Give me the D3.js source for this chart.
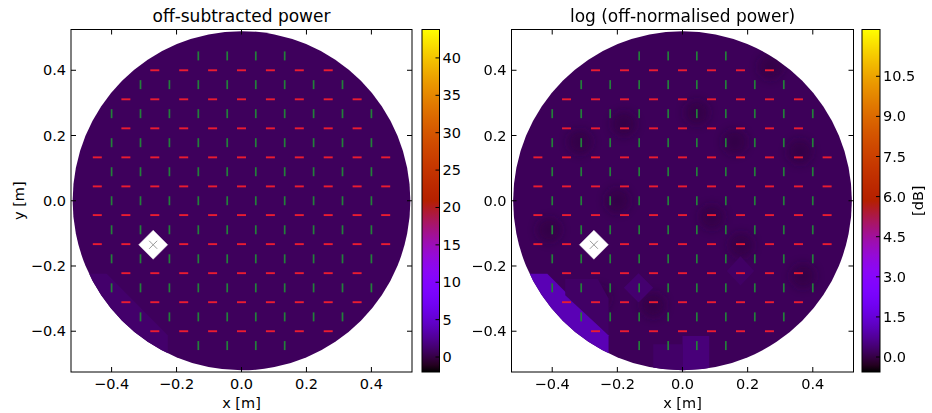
<!DOCTYPE html>
<html><head><meta charset="utf-8">
<script src="https://cdn.jsdelivr.net/npm/d3@7"></script>
<style>body{margin:0;background:#fff} svg{display:block} text{font-family:"DejaVu Sans",sans-serif;fill:#000}</style>
</head><body><svg id="c" width="932" height="413"></svg>
<script>
// ---- data ----
const titles = ["off-subtracted power", "log (off-normalised power)"];
const axisTicks = [-0.4, -0.2, 0.0, 0.2, 0.4];
const axisExtent = [-0.525, 0.525];
const dishRadius = 0.52;
const feedRadius = 0.485;
const redDashX = [-0.444, -0.356, -0.267, -0.178, -0.089, 0, 0.089, 0.178, 0.267, 0.356, 0.444];
const redDashY = [0.4, 0.311, 0.222, 0.133, 0.044, -0.044, -0.133, -0.222, -0.311, -0.4];
const greenDashX = [-0.4, -0.311, -0.222, -0.133, -0.044, 0.044, 0.133, 0.222, 0.311, 0.4];
const greenDashY = [0.444, 0.356, 0.267, 0.178, 0.089, 0, -0.089, -0.178, -0.267, -0.356, -0.444];
const sourcePos = [-0.272, -0.135];
const leftRange = [-2.0, 43.8];
const leftTicks = [0, 5, 10, 15, 20, 25, 30, 35, 40];
const rightRange = [-0.56, 12.25];
const rightTicks = [0, 1.5, 3.0, 4.5, 6.0, 7.5, 9.0, 10.5];
const leftBase = 0.7;
const rightBase = 0.17;
const stripPoly = [[-0.6, -0.224], [-0.415, -0.224], [-0.227, -0.412], [-0.227, -0.6], [-0.6, -0.6]];
const leftPatches = [{poly: stripPoly, v: 1.15}];
const rightPatches = [
  {poly: stripPoly, v: 1.05},
  {poly: [[-0.36, -0.24], [-0.26, -0.24], [-0.227, -0.30], [-0.227, -0.412], [-0.36, -0.29]], v: 0.27},
  {poly: [[0.0, -0.415], [0.082, -0.415], [0.082, -0.6], [0.0, -0.6]], v: 0.45},
  {poly: [[-0.09, -0.44], [0.0, -0.44], [0.0, -0.6], [-0.09, -0.6]], v: 0.3},
  {poly: [[-0.135, -0.222], [-0.09, -0.267], [-0.135, -0.312], [-0.18, -0.267]], v: 0.36},
  {poly: [[0.178, -0.17], [0.22, -0.215], [0.178, -0.26], [0.136, -0.215]], v: 0.27}
];
const rightDarkSpots = [[-0.315, 0.18], [-0.18, 0.235], [0.27, 0.41], [0.16, 0.18], [0.044, 0.27], [0.36, 0.15],
  [-0.41, -0.09], [0.18, -0.136], [-0.09, -0.32], [-0.26, -0.3], [0.37, -0.23], [-0.2, 0.0], [0.09, -0.05]];
const darkSpotValue = -0.2;

// ---- layout ----
const Y0 = 29.5, Y1 = 372;
const panels = [
  {x0: 71, x1: 412, cbx: 422, cbw: 17.5, range: leftRange, ticks: leftTicks, fmt: d3.format("d"), base: leftBase, patches: leftPatches, spots: [], cblabel: null},
  {x0: 511.5, x1: 853.5, cbx: 862, cbw: 18, range: rightRange, ticks: rightTicks, fmt: d3.format(".1f"), base: rightBase, patches: rightPatches, spots: rightDarkSpots, cblabel: "[dB]"}
];

function gnuplot(t) {
  t = Math.max(0, Math.min(1, t));
  const r = Math.sqrt(t), g = t * t * t, b = Math.max(0, Math.sin(2 * Math.PI * t));
  return d3.rgb(r * 255, g * 255, b * 255).toString();
}

const svg = d3.select("#c");
const defs = svg.append("defs");
defs.append("filter").attr("id", "blur").attr("x", "-50%").attr("y", "-50%").attr("width", "200%").attr("height", "200%")
  .append("feGaussianBlur").attr("stdDeviation", 4);

panels.forEach((p, i) => {
  const x = d3.scaleLinear().domain(axisExtent).range([p.x0, p.x1]);
  const y = d3.scaleLinear().domain(axisExtent).range([Y1, Y0]);
  const color = d3.scaleSequential(gnuplot).domain(p.range);
  const g = svg.append("g");

  const clipId = "clip" + i;
  const rx = x(dishRadius) - x(0), ry = y(0) - y(dishRadius);
  defs.append("clipPath").attr("id", clipId).append("ellipse")
    .attr("cx", x(0)).attr("cy", y(0)).attr("rx", rx).attr("ry", ry);

  const field = g.append("g").attr("clip-path", `url(#${clipId})`);
  field.append("rect").attr("x", p.x0).attr("y", Y0).attr("width", p.x1 - p.x0).attr("height", Y1 - Y0)
    .attr("fill", color(p.base));
  field.append("g").attr("filter", "url(#blur)").selectAll("ellipse").data(p.spots).join("ellipse")
    .attr("cx", d => x(d[0])).attr("cy", d => y(d[1]))
    .attr("rx", x(0.038) - x(0)).attr("ry", y(0) - y(0.038))
    .attr("fill", color(darkSpotValue)).attr("opacity", 0.4);
  const line = d3.line().x(d => x(d[0])).y(d => y(d[1]));
  field.selectAll("path.patch").data(p.patches).join("path").attr("class", "patch")
    .attr("d", d => line(d.poly) + "Z").attr("fill", d => color(d.v));

  // feeds
  const reds = [], greens = [];
  redDashY.forEach(yy => redDashX.forEach(xx => { if (Math.hypot(xx, yy) < feedRadius) reds.push([xx, yy]); }));
  greenDashY.forEach(yy => greenDashX.forEach(xx => { if (Math.hypot(xx, yy) < feedRadius) greens.push([xx, yy]); }));
  g.selectAll("line.g").data(greens).join("line").attr("class", "g")
    .attr("x1", d => x(d[0])).attr("x2", d => x(d[0]))
    .attr("y1", d => y(d[1]) - 4.5).attr("y2", d => y(d[1]) + 4.5)
    .attr("stroke", "#23803a").attr("stroke-width", 1.7);
  g.selectAll("line.r").data(reds).join("line").attr("class", "r")
    .attr("x1", d => x(d[0]) - 4.5).attr("x2", d => x(d[0]) + 4.5)
    .attr("y1", d => y(d[1])).attr("y2", d => y(d[1]))
    .attr("stroke", "#ea1c30").attr("stroke-width", 1.9);

  // source marker
  const sx = x(sourcePos[0]), sy = y(sourcePos[1]), s = 14.5;
  g.append("path").attr("d", `M${sx},${sy - s}L${sx + s},${sy}L${sx},${sy + s}L${sx - s},${sy}Z`)
    .attr("fill", "#fff").attr("stroke", "#f4f4f4").attr("stroke-width", 0.5);
  g.append("path").attr("d", `M${sx - 4},${sy - 4}L${sx + 4},${sy + 4}M${sx - 4},${sy + 4}L${sx + 4},${sy - 4}`)
    .attr("stroke", "#9a9a9a").attr("stroke-width", 1);

  // frame and ticks
  g.append("rect").attr("x", p.x0).attr("y", Y0).attr("width", p.x1 - p.x0).attr("height", Y1 - Y0)
    .attr("fill", "none").attr("stroke", "#000").attr("stroke-width", 1);
  const tl = 5;
  const tk = g.append("g").attr("stroke", "#000").attr("stroke-width", 1);
  axisTicks.forEach(t => {
    tk.append("line").attr("x1", x(t)).attr("x2", x(t)).attr("y1", Y1).attr("y2", Y1 - tl);
    tk.append("line").attr("x1", x(t)).attr("x2", x(t)).attr("y1", Y0).attr("y2", Y0 + tl);
    tk.append("line").attr("y1", y(t)).attr("y2", y(t)).attr("x1", p.x0).attr("x2", p.x0 + tl);
    tk.append("line").attr("y1", y(t)).attr("y2", y(t)).attr("x1", p.x1).attr("x2", p.x1 - tl);
  });
  const fmt = d => d3.format(".1f")(d).replace("-", "\u2212");
  g.selectAll("text.xt").data(axisTicks).join("text").attr("class", "xt")
    .attr("x", d => x(d)).attr("y", Y1 + 17).attr("text-anchor", "middle").attr("font-size", 14.5).text(fmt);
  g.selectAll("text.yt").data(axisTicks).join("text").attr("class", "yt")
    .attr("x", p.x0 - 5).attr("y", d => y(d) + 5).attr("text-anchor", "end").attr("font-size", 14.5).text(fmt);
  g.append("text").attr("x", (p.x0 + p.x1) / 2).attr("y", 22).attr("text-anchor", "middle").attr("font-size", 17).text(titles[i]);
  g.append("text").attr("x", (p.x0 + p.x1) / 2).attr("y", 408).attr("text-anchor", "middle").attr("font-size", 14.5).text("x [m]");
  if (i === 0) {
    g.append("text").attr("transform", `translate(24,${(Y0 + Y1) / 2}) rotate(-90)`).attr("text-anchor", "middle").attr("font-size", 14.5).text("y [m]");
  }

  // colorbar
  const cb = d3.scaleLinear().domain(p.range).range([Y1, Y0]);
  const gid = "grad" + i;
  const grad = defs.append("linearGradient").attr("id", gid).attr("x1", 0).attr("x2", 0).attr("y1", 1).attr("y2", 0);
  d3.range(0, 1.0001, 0.02).forEach(t => grad.append("stop").attr("offset", t).attr("stop-color", gnuplot(t)));
  g.append("rect").attr("x", p.cbx).attr("y", Y0).attr("width", p.cbw).attr("height", Y1 - Y0)
    .attr("fill", `url(#${gid})`).attr("stroke", "#000").attr("stroke-width", 1);
  const cbt = g.append("g");
  p.ticks.forEach(t => {
    cbt.append("line").attr("x1", p.cbx + p.cbw).attr("x2", p.cbx + p.cbw - 4).attr("y1", cb(t)).attr("y2", cb(t))
      .attr("stroke", "#000").attr("stroke-width", 1);
    cbt.append("text").attr("x", p.cbx + p.cbw + 3).attr("y", cb(t) + 5).attr("font-size", 14.5).text(p.fmt(t));
  });
  if (p.cblabel) {
    g.append("text").attr("transform", `translate(923,${(Y0 + Y1) / 2}) rotate(-90)`).attr("text-anchor", "middle")
      .attr("font-size", 14.5).text(p.cblabel);
  }
});
</script></body></html>
